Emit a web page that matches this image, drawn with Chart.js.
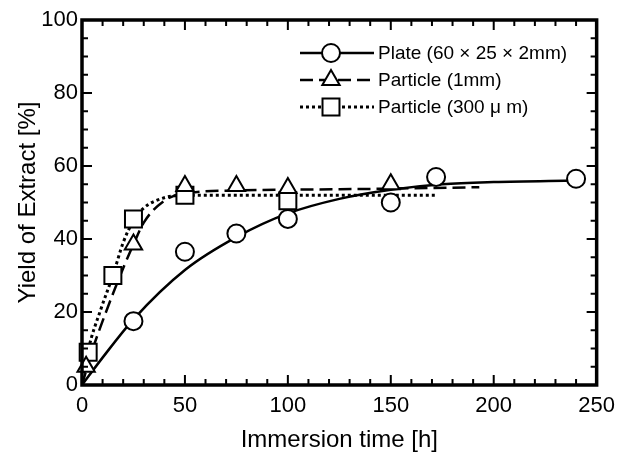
<!DOCTYPE html>
<html>
<head>
<meta charset="utf-8">
<script src="https://cdn.jsdelivr.net/npm/chart.js@4.4.1/dist/chart.umd.min.js"></script>
<style>
  html, body { margin: 0; padding: 0; background: #fff; }
  #wrap { width: 623px; height: 456px; }
</style>
</head>
<body>
<div id="wrap"><canvas id="chart" width="623" height="456"></canvas></div>
<script>
// measured points
const plateTime = [25, 50, 75, 100, 150, 172, 240];
const plateYield = [17.5, 36.5, 41.5, 45.5, 50, 57, 56.5];

const mm1Time = [2, 25, 50, 75, 100, 150];
const mm1Yield = [5, 38.5, 54.5, 54.5, 54, 55];

const um300Time = [3, 15, 25, 50, 100];
const um300Yield = [9, 30, 45.5, 52, 50.5];

// fitted curves
const plateFitTime = [0, 10, 25, 50, 75, 100, 125, 150, 175, 200, 240];
const plateFitYield = [0, 7.5, 18, 31.5, 40.5, 47, 51, 53.5, 55, 55.6, 56];

const mm1FitTime = [0, 5, 10, 20, 25, 30, 40, 50, 75, 100, 150, 193];
const mm1FitYield = [0, 9.5, 17.5, 32, 38.5, 44.5, 50.5, 52.5, 53.3, 53.5, 53.8, 54.2];

const um300FitTime = [0, 3, 9, 15, 20, 25, 30, 40, 50, 100, 172];
const um300FitYield = [0, 9.5, 20.5, 30, 39, 45, 48.5, 51.3, 52, 52, 52];

const seriesLabels = ['Plate (60 × 25 × 2mm)', 'Particle (1mm)', 'Particle (300 μ m)'];
const xTicksLabelled = [0, 50, 100, 150, 200, 250];
const yTicksLabelled = [0, 20, 40, 60, 80, 100];

const FONT = '"Liberation Sans", Arial, sans-serif';

function pts(xs, ys) {
    return xs.map((x, i) => ({ x: x, y: ys[i] }));
}

function markerSet(label, xs, ys, style, r) {
    return {
        label: label,
        data: pts(xs, ys),
        showLine: false,
        pointStyle: style,
        pointRadius: r,
        pointBorderWidth: 2,
        pointBorderColor: '#000',
        pointBackgroundColor: '#fff',
        order: 0,
        clip: false
    };
}

function fitSet(xs, ys, dash, width) {
    return {
        data: pts(xs, ys),
        showLine: true,
        pointRadius: 0,
        borderColor: '#000',
        borderWidth: width,
        borderDash: dash,
        cubicInterpolationMode: 'monotone',
        order: 1
    };
}

const datasets = [
    markerSet(seriesLabels[0], plateTime, plateYield, 'circle', 9),
    markerSet(seriesLabels[1], mm1Time, mm1Yield, 'triangle', 10),
    markerSet(seriesLabels[2], um300Time, um300Yield, 'rect', 12),
    fitSet(plateFitTime, plateFitYield, [], 2.5),
    fitSet(mm1FitTime, mm1FitYield, [13, 6], 2.5),
    fitSet(um300FitTime, um300FitYield, [3, 3], 3)
];

// frame with inward ticks on all four sides
const frameTicks = {
    id: 'frameTicks',
    afterDatasetsDraw(chart) {
        const { ctx, chartArea: a, scales: { x, y } } = chart;
        ctx.save();
        ctx.strokeStyle = '#000';
        ctx.lineWidth = 2;
        ctx.beginPath();
        x.ticks.forEach(t => {
            const px = x.getPixelForValue(t.value);
            const len = xTicksLabelled.includes(t.value) ? 10 : 6;
            ctx.moveTo(px, a.bottom); ctx.lineTo(px, a.bottom - len);
            ctx.moveTo(px, a.top); ctx.lineTo(px, a.top + len);
        });
        y.ticks.forEach(t => {
            const py = y.getPixelForValue(t.value);
            const len = yTicksLabelled.includes(t.value) ? 10 : 6;
            ctx.moveTo(a.left, py); ctx.lineTo(a.left + len, py);
            ctx.moveTo(a.right, py); ctx.lineTo(a.right - len, py);
        });
        ctx.stroke();
        ctx.lineWidth = 3.5;
        ctx.strokeRect(a.left, a.top, a.right - a.left, a.bottom - a.top);
        ctx.restore();
    }
};

// legend: line sample with marker in the middle
const lineLegend = {
    id: 'lineLegend',
    afterDraw(chart) {
        const ctx = chart.ctx;
        const sets = chart.data.datasets;
        ctx.save();
        ctx.font = '19px ' + FONT;
        ctx.textBaseline = 'middle';
        for (let i = 0; i < 3; i++) {
            const m = sets[i];
            const f = sets[i + 3];
            const yy = 53 + i * 27;
            ctx.strokeStyle = '#000';
            ctx.lineWidth = f.borderWidth;
            ctx.setLineDash(f.borderDash);
            ctx.beginPath();
            ctx.moveTo(300, yy);
            ctx.lineTo(374, yy);
            ctx.stroke();
            ctx.setLineDash([]);
            ctx.lineWidth = 2;
            ctx.fillStyle = '#fff';
            Chart.helpers.drawPoint(ctx, {
                pointStyle: m.pointStyle,
                radius: m.pointRadius,
                rotation: 0,
                borderWidth: 2
            }, 331, yy);
            ctx.fillStyle = '#000';
            ctx.fillText(m.label, 378, yy + 1);
        }
        ctx.restore();
    }
};

Chart.defaults.font.family = FONT;
Chart.defaults.color = '#000';

new Chart(document.getElementById('chart'), {
    type: 'scatter',
    data: { datasets: datasets },
    options: {
        responsive: false,
        animation: false,
        events: [],
        layout: { padding: { left: 0, top: 20, right: 22, bottom: 0 } },
        plugins: {
            legend: { display: false },
            tooltip: { enabled: false }
        },
        scales: {
            x: {
                type: 'linear',
                min: 0,
                max: 250,
                grid: { display: false, drawTicks: false },
                border: { display: false },
                ticks: {
                    stepSize: 10,
                    autoSkip: false,
                    maxRotation: 0,
                    padding: 8,
                    font: { size: 22 },
                    callback: v => xTicksLabelled.includes(v) ? String(v) : ''
                },
                title: {
                    display: true,
                    text: 'Immersion time [h]',
                    font: { size: 24 },
                    padding: { top: 0, bottom: 1 }
                },
                afterFit: s => { s.height = 71; }
            },
            y: {
                type: 'linear',
                min: 0,
                max: 100,
                grid: { display: false, drawTicks: false },
                border: { display: false },
                ticks: {
                    stepSize: 5,
                    autoSkip: false,
                    padding: 4,
                    font: { size: 22 },
                    callback: v => yTicksLabelled.includes(v) ? String(v) : ''
                },
                title: {
                    display: true,
                    text: 'Yield of Extract [%]',
                    font: { size: 24 },
                    padding: { top: 14, bottom: 0 }
                },
                afterFit: s => { s.width = 82; }
            }
        }
    },
    plugins: [frameTicks, lineLegend]
});
</script>
</body>
</html>
